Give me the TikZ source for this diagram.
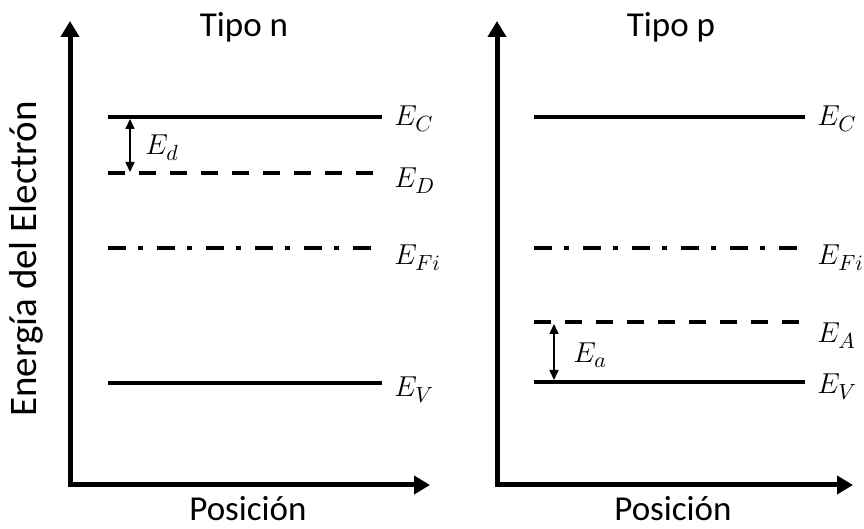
\documentclass[tikz,border=0pt]{standalone}
\usepackage{fontspec}
\setmainfont{Carlito}
\usetikzlibrary{arrows.meta, positioning}

\begin{document}
\begin{tikzpicture}[x=0.5pt, y=-0.5pt,
    axis/.style={line width=2.5pt, {Triangle[length=8pt, width=9pt]}-{Triangle[length=8pt, width=9pt]}},
    level/.style={line width=2pt},
    dashlevel/.style={level, dash pattern=on 8.5pt off 7pt},
    fermi/.style={level, dash pattern=on 9pt off 6pt on 2.5pt off 7pt},
    gap/.style={line width=0.75pt, {Triangle[length=5pt, width=4.5pt]}-{Triangle[length=5pt, width=4.5pt]}},
    lbl/.style={inner sep=0pt, anchor=base west, font=\fontsize{15.5}{18}\selectfont},
    txt/.style={inner sep=0pt, anchor=base, font=\fontsize{17.5}{21}\selectfont}]
    \useasboundingbox (0,0) rectangle (864,529);

    % Tipo n
    \draw[axis] (70,21) -- (70,485) -- (430,485);
    \draw[level]     (108,117) -- (382,117);
    \draw[dashlevel] (108,173) -- (382,173);
    \draw[fermi]     (108,248) -- (382,248);
    \draw[level]     (108,383) -- (382,383);
    \node[lbl] (nEC) at (394,126) {$E_C$};
    \node[lbl] (nED) at (394,188) {$E_D$};
    \node[lbl] (nEF) at (394,265) {$E_{Fi}$};
    \node[lbl] (nEV) at (394,397) {$E_V$};
    \coordinate (nGapTop) at (130,119);
    \coordinate (nGapBot) at (130,172);
    \draw[gap] (nGapTop) -- (nGapBot);
    \node[lbl] (nEd) at (145,155) {$E_d$};
    \node[txt] (nTitle) at (244,37) {Tipo n};
    \node[txt] (nXlab) at (248,521) {Posición};
    \node[txt, rotate=90, font=\fontsize{19.5}{23}\selectfont] (nYlab) at (36,259) {Energía del Electrón};

    % Tipo p
    \draw[axis] (497,21) -- (497,485) -- (853,485);
    \draw[level]     (534,117) -- (805,117);
    \draw[fermi]     (534,248) -- (805,248);
    \draw[dashlevel] (534,322) -- (805,322);
    \draw[level]     (534,382) -- (805,382);
    \node[lbl] (pEC) at (817,126) {$E_C$};
    \node[lbl] (pEF) at (817,265) {$E_{Fi}$};
    \node[lbl] (pEA) at (817,343) {$E_A$};
    \node[lbl] (pEV) at (817,394) {$E_V$};
    \coordinate (pGapTop) at (554,324);
    \coordinate (pGapBot) at (554,380);
    \draw[gap] (pGapTop) -- (pGapBot);
    \node[lbl] (pEa) at (573,363) {$E_a$};
    \node[txt] (pTitle) at (671,37) {Tipo p};
    \node[txt] (pXlab) at (673,521) {Posición};
\end{tikzpicture}
\end{document}
